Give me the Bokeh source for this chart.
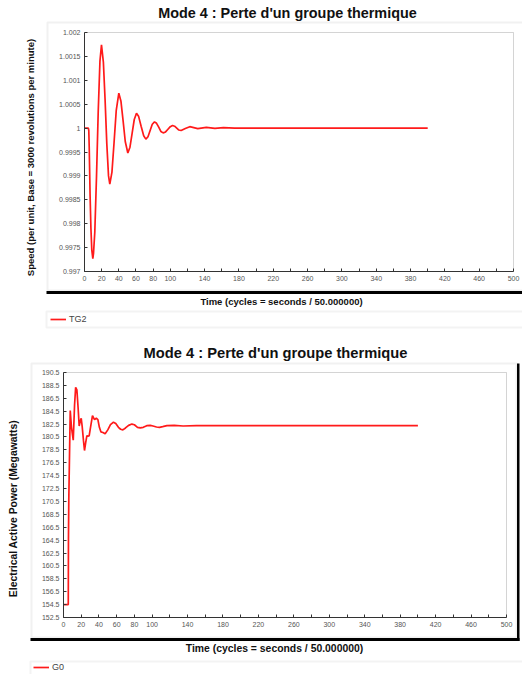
from math import pi

from bokeh.embed import file_html
from bokeh.layouts import column
from bokeh.models import (BoxAnnotation, FixedTicker, Label, Legend, LegendItem,
                          Range1d)
from bokeh.plotting import figure
from bokeh.resources import INLINE

# ---------------------------------------------------------------- data
title_text = "Mode 4 : Perte d'un groupe thermique"
x_title = "Time (cycles = seconds / 50.000000)"

x_ticks = [0, 20, 40, 60, 80, 100, 120, 140, 160, 180, 200, 220, 240, 260,
           280, 300, 320, 340, 360, 380, 400, 420, 440, 460, 480, 500]
x_tick_labels = ["0", "20", "40", "60", "80", "100", "", "140", "", "180", "",
                 "220", "", "260", "", "300", "", "340", "", "380", "", "420",
                 "", "460", "", "500"]

speed_ticks = [0.997, 0.9975, 0.998, 0.9985, 0.999, 0.9995, 1.0,
               1.0005, 1.001, 1.0015, 1.002]
speed_tick_labels = ["0.997", "0.9975", "0.998", "0.9985", "0.999", "0.9995",
                     "1", "1.0005", "1.001", "1.0015", "1.002"]

power_ticks = [152.5, 154.5, 156.5, 158.5, 160.5, 162.5, 164.5, 166.5, 168.5,
               170.5, 172.5, 174.5, 176.5, 178.5, 180.5, 182.5, 184.5, 186.5,
               188.5, 190.5]
power_tick_labels = ["152.5", "154.5", "156.5", "158.5", "160.5", "162.5",
                     "164.5", "166.5", "168.5", "170.5", "172.5", "174.5",
                     "176.5", "178.5", "180.5", "182.5", "184.5", "186.5",
                     "188.5", "190.5"]

# TG2 speed (per unit) against time in cycles
speed_t = [0, 4.5, 5.0, 5.5, 6.5, 7.5, 8.5, 9.7, 10.5, 12, 14, 16, 18, 19.8,
           22, 24, 26, 28, 29.5, 32, 34.5, 37, 40, 42.5, 45, 47.5, 50.5,
           53, 55.5, 58, 60.6, 63, 66, 69, 71.5, 74, 76.5, 79, 81.6,
           84, 86.5, 89, 91.7, 94.5, 97, 100, 102.6, 105, 107.5, 110, 112.6,
           117.5, 122.7, 132, 142, 152, 162, 175, 200, 300, 400]
speed_v = [1.0, 1.0, 0.99995, 0.9996, 0.9986, 0.9979, 0.99745, 0.99727,
           0.99738, 0.99782, 0.99899, 1.00035, 1.00140, 1.00174,
           1.00138, 1.00059, 0.99967, 0.99900, 0.99883,
           0.99908, 0.99971, 1.00037, 1.00073,
           1.00056, 1.00015, 0.99972, 0.99948,
           0.99960, 0.99989, 1.00018, 1.00031,
           1.00025, 1.00004, 0.99984, 0.99977,
           0.99982, 0.99995, 1.00008, 1.00013,
           1.00010, 1.00002, 0.99993, 0.99990,
           0.99992, 0.99997, 1.00003, 1.000055,
           1.00004, 1.0, 0.99996, 0.99995,
           0.99999, 1.00003, 0.99999, 1.000015, 0.999995, 1.00001, 1.0,
           1.0, 1.0, 1.0]

# G0 electrical active power (MW) against time in cycles
power_t = [0, 5.4, 5.6, 6.0, 7.6, 9.0, 11.0, 12.5, 13.7, 15.1, 16.5, 17.7,
           19.0, 20.0, 21.1, 22.5, 23.7, 25.0, 26.4, 27.5, 29.0, 30.5, 32.7,
           35.0, 37.0, 38.8, 40.5, 42.2, 44.5, 47.0, 50.0, 53.0, 56.4, 59.0,
           62.0, 64.5, 67.0, 70.0, 73.5, 77.2, 80.0, 83.5, 86.6, 90.0, 94.0,
           97.9, 101, 105, 108.4, 112, 116.7, 125, 135, 150, 400]
power_v = [154.5, 154.5, 164.5, 171.0, 184.6, 182.0, 180.0, 185.5, 188.2,
           187.8, 185.0, 182.2, 183.0, 183.4, 182.1, 180.0, 178.4, 179.6,
           180.7, 180.6, 180.7, 182.0, 183.8, 183.2, 183.4, 183.2, 182.0,
           181.3, 181.2, 181.0, 181.6, 182.4, 182.8, 182.6, 182.0, 181.7,
           181.6, 181.9, 182.3, 182.5, 182.4, 182.0, 181.9, 182.0, 182.25,
           182.3, 182.2, 182.05, 182.0, 182.1, 182.25, 182.3, 182.2, 182.25,
           182.25]

FONT = "Liberation Sans"
W, H = 522, 337


def box(H, l, t, r, b, **kw):
    """Box given in canvas pixels (origin top-left)."""
    return BoxAnnotation(left=l, right=r, top=H - t, bottom=H - b,
                         left_units="screen", right_units="screen",
                         top_units="screen", bottom_units="screen", **kw)


def make_chart(xs, ys, y_span, y_ticks, y_labels, frame, y_title, series_name,
               panel, legend_strip, sizes, pos):
    fl, ft, fr, fb = frame
    x0, x1 = 0, 500
    y0, y1 = y_span
    # the plotting frame covers the whole canvas; the ranges are chosen so
    # that the data area lands on the inner rectangle `frame`
    kx = (x1 - x0) / (fr - fl)
    ky = (y1 - y0) / (fb - ft)
    x_range = Range1d(x0 - fl * kx, x1 + (W - fr) * kx)
    y_range = Range1d(y0 - (H - fb) * ky, y1 + ft * ky)

    p = figure(width=W, height=H, x_range=x_range, y_range=y_range,
               output_backend="svg", toolbar_location=None,
               min_border=0, background_fill_color="white",
               border_fill_color="white", outline_line_color=None)
    p.grid.visible = False

    xa, ya = p.xaxis[0], p.yaxis[0]
    xa.fixed_location = y0
    xa.bounds = (x0, x1)
    ya.fixed_location = x0
    ya.bounds = (y0, y1)
    for ax in (xa, ya):
        ax.axis_line_color = "#333333"
        ax.major_tick_line_color = "#333333"
        ax.major_tick_in = 3
        ax.major_tick_out = 0
        ax.minor_tick_line_color = None
        ax.major_label_text_font = FONT
        ax.major_label_text_font_size = "7px"
        ax.major_label_text_color = "#555555"
        ax.major_label_standoff = 4
    xa.ticker = FixedTicker(ticks=x_ticks)
    xa.major_label_overrides = dict(zip(x_ticks, x_tick_labels))
    ya.ticker = FixedTicker(ticks=y_ticks)
    ya.major_label_overrides = dict(zip(y_ticks, y_labels))

    # panel round plot and axes, with a dark shadow edge
    pl, pt, pr, pb = panel
    p.add_layout(box(H, pl, pt, pr, pb, fill_alpha=0, line_color="#cfcfcf",
                     line_width=2, level="underlay"))
    p.add_layout(box(H, pl - 1, pb + 0.5, pr + 3, pb + 3.5, fill_color="black",
                     fill_alpha=1, line_alpha=0, level="underlay"))
    if pr < W:
        p.add_layout(box(H, pr + 0.5, pt, pr + 3, pb + 3.5, fill_color="black",
                         fill_alpha=1, line_alpha=0, level="underlay"))
    # outline of the data area (top and right edges show beside the axes)
    p.add_layout(box(H, fl, ft, fr, fb, fill_alpha=0, line_color="#707070",
                     line_width=1, level="underlay"))
    # legend strip
    ll, lt, lr, lb = legend_strip
    p.add_layout(box(H, ll, lt, lr, lb, fill_alpha=0, line_color="#d6d6d6",
                     line_width=2, level="underlay"))

    r = p.line(xs, ys, line_color="#ff1a1a", line_width=1.7)

    title_size, axis_size = sizes
    title_pos, xt_pos, yt_pos, leg_pos = pos
    common = dict(x_units="screen", y_units="screen", text_align="center",
                  text_baseline="middle", text_font=FONT, text_font_style="bold",
                  text_color="#111111")
    p.add_layout(Label(x=title_pos[0], y=H - title_pos[1], text=title_text,
                       text_font_size=title_size, **common))
    p.add_layout(Label(x=xt_pos[0], y=H - xt_pos[1], text=x_title,
                       text_font_size=axis_size, **common))
    p.add_layout(Label(x=yt_pos[0], y=H - yt_pos[1], text=y_title, angle=pi / 2,
                       text_font_size=axis_size, **common))

    legend = Legend(items=[LegendItem(label=series_name, renderers=[r])],
                    location=(leg_pos[0], H - leg_pos[1]),
                    border_line_color=None, background_fill_alpha=0,
                    padding=0, margin=0, spacing=0, glyph_width=16,
                    glyph_height=12, label_height=12, label_standoff=3,
                    label_text_font=FONT, label_text_font_size="9px",
                    label_text_color="#444444", label_text_baseline="middle")
    p.add_layout(legend)
    return p


top = make_chart(speed_t, speed_v, (0.997, 1.002), speed_ticks, speed_tick_labels,
                 frame=(84, 32, 513, 271),
                 y_title="Speed (per unit, Base = 3000 revolutions per minute)",
                 series_name="TG2",
                 panel=(47, 22, 540, 290),
                 legend_strip=(46, 311, 540, 327),
                 sizes=("14.4px", "9.5px"),
                 pos=((287, 12), (281, 301), (30, 157), (50, 325)))

bottom = make_chart(power_t, power_v, (152.5, 190.5), power_ticks, power_tick_labels,
                    frame=(63, 35, 506, 280),
                    y_title="Electrical Active Power (Megawatts)",
                    series_name="G0",
                    panel=(31, 26, 516, 300),
                    legend_strip=(30, 324, 540, 345),
                    sizes=("14.7px", "10.4px"),
                    pos=((275, 15), (274, 311), (13, 171), (33, 336)))

layout = column(top, bottom, spacing=0)
open("out.html", "w").write(file_html(layout, INLINE))
